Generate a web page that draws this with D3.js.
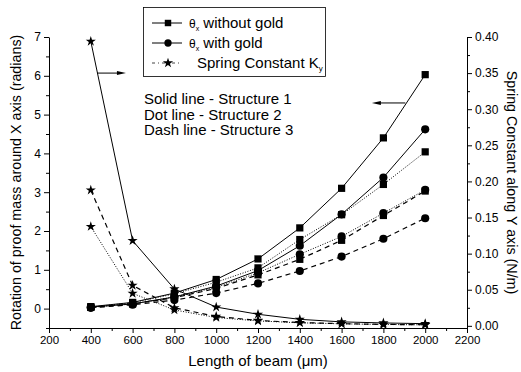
<!DOCTYPE html>
<html>
<head>
<meta charset="utf-8">
<script src="https://cdn.jsdelivr.net/npm/d3@7/dist/d3.min.js"></script>
<style>
    body { margin: 0; background: #fff; }
    svg { display: block; font-family: "Liberation Sans", Arial, sans-serif; }
    .axis path, .axis line { stroke: #000; stroke-width: 1; }
    .axis text { font-size: 11.5px; fill: #000; }
    .y.axis text { font-size: 12px; }
</style>
</head>
<body>
<div id="chart"></div>
<script>
// beam length (um)
var lengths = [400, 600, 800, 1000, 1200, 1400, 1600, 1800, 2000];

// rotation theta_x without gold (radians), left axis
var noGoldSolid = [0.05, 0.16, 0.40, 0.75, 1.28, 2.08, 3.10, 4.40, 6.03];
var noGoldDot   = [0.04, 0.15, 0.38, 0.68, 1.05, 1.78, 2.42, 3.20, 4.04];
var noGoldDash  = [0.03, 0.12, 0.28, 0.52, 0.87, 1.27, 1.76, 2.40, 3.03];

// rotation theta_x with gold (radians), left axis
var goldSolid = [0.04, 0.12, 0.30, 0.58, 0.98, 1.62, 2.43, 3.38, 4.62];
var goldDot   = [0.03, 0.12, 0.30, 0.55, 0.92, 1.40, 1.86, 2.46, 3.06];
var goldDash  = [0.02, 0.10, 0.22, 0.40, 0.65, 0.97, 1.34, 1.80, 2.33];

// spring constant Ky (N/m), right axis
var springSolid = [0.394, 0.118, 0.051, 0.026, 0.016, 0.009, 0.0055, 0.004, 0.003];
var springDash  = [0.188, 0.056, 0.025, 0.013, 0.0075, 0.0045, 0.003, 0.002, 0.0015];
var springDot   = [0.1375, 0.045, 0.022, 0.0115, 0.0068, 0.0042, 0.0028, 0.0019, 0.0014];

var xTicks = [200, 400, 600, 800, 1000, 1200, 1400, 1600, 1800, 2000, 2200];
var leftTicks = [0, 1, 2, 3, 4, 5, 6, 7];
var rightTicks = [0, 0.05, 0.10, 0.15, 0.20, 0.25, 0.30, 0.35, 0.40];

// annotation arrows, in data units (x, left axis)
var arrowRight = [[430, 6.07], [568, 6.07]];
var arrowLeft  = [[1905, 5.3], [1745, 5.3]];

var notes = ["Solid line - Structure 1", "Dot line - Structure 2", "Dash line - Structure 3"];

var W = 521, H = 372;
var margin = {left: 49, right: 54, top: 37, bottom: 44};

var x = d3.scaleLinear().domain([200, 2200]).range([margin.left, W - margin.right]);
var yL = d3.scaleLinear().domain([-0.5, 7]).range([H - margin.bottom, margin.top]);
var yR = d3.scaleLinear().domain([-0.003, 0.40]).range([H - margin.bottom, margin.top]);

var svg = d3.select("#chart").append("svg")
    .attr("width", W)
    .attr("height", H);

svg.append("rect").attr("width", W).attr("height", H).attr("fill", "#fff");

// axes
svg.append("g")
    .attr("class", "x axis")
    .attr("transform", "translate(0," + (H - margin.bottom) + ")")
    .call(d3.axisBottom(x).tickValues(xTicks).tickSize(5).tickSizeOuter(0).tickFormat(d3.format("d")));
svg.append("g")
    .attr("class", "x axis")
    .attr("transform", "translate(0," + (H - margin.bottom) + ")")
    .call(d3.axisBottom(x).tickValues(d3.range(300, 2200, 200)).tickSize(3).tickFormat(""))
    .select(".domain").remove();

svg.append("g")
    .attr("class", "y axis")
    .attr("transform", "translate(" + margin.left + ",0)")
    .call(d3.axisLeft(yL).tickValues(leftTicks).tickSize(5).tickSizeOuter(0).tickFormat(d3.format("d")));
svg.append("g")
    .attr("class", "y axis")
    .attr("transform", "translate(" + margin.left + ",0)")
    .call(d3.axisLeft(yL).tickValues(d3.range(-0.5, 7, 1)).tickSize(3).tickFormat(""))
    .select(".domain").remove();

svg.append("g")
    .attr("class", "y axis")
    .attr("transform", "translate(" + (W - margin.right) + ",0)")
    .call(d3.axisRight(yR).tickValues(rightTicks).tickSize(5).tickSizeOuter(0).tickFormat(d3.format(".2f")));
svg.append("g")
    .attr("class", "y axis")
    .attr("transform", "translate(" + (W - margin.right) + ",0)")
    .call(d3.axisRight(yR).tickValues(d3.range(0.025, 0.4, 0.05)).tickSize(3).tickFormat(""))
    .select(".domain").remove();

// axis titles
svg.append("text")
    .attr("x", x(1200))
    .attr("y", 366)
    .style("text-anchor", "middle")
    .style("font-size", "15px")
    .text("Length of beam (\u03bcm)");

svg.append("text")
    .attr("transform", "translate(21," + yL(3.25) + ") rotate(-90)")
    .style("text-anchor", "middle")
    .style("font-size", "14.3px")
    .text("Rotation of proof mass around X axis (radians)");

svg.append("text")
    .attr("transform", "translate(507," + yL(3.25) + ") rotate(90)")
    .style("text-anchor", "middle")
    .style("font-size", "14.3px")
    .text("Spring Constant along Y axis (N/m)");

// series
var dashes = {solid: null, dot: "1,1.6", dash: "5,4"};

var series = [
    {values: noGoldSolid, y: yL, shape: d3.symbolSquare, style: "solid"},
    {values: noGoldDot, y: yL, shape: d3.symbolSquare, style: "dot"},
    {values: noGoldDash, y: yL, shape: d3.symbolSquare, style: "dash"},
    {values: goldSolid, y: yL, shape: d3.symbolCircle, style: "solid"},
    {values: goldDot, y: yL, shape: d3.symbolCircle, style: "dot"},
    {values: goldDash, y: yL, shape: d3.symbolCircle, style: "dash"},
    {values: springSolid, y: yR, shape: d3.symbolStar, style: "solid"},
    {values: springDash, y: yR, shape: d3.symbolStar, style: "dash"},
    {values: springDot, y: yR, shape: d3.symbolStar, style: "dot"}
];

function symbolSize(shape) {
    if (shape === d3.symbolSquare) return 52;
    if (shape === d3.symbolCircle) return 52;
    return 32;
}

series.forEach(function (s) {
    var line = d3.line()
        .x(function (d, i) { return x(lengths[i]); })
        .y(function (d) { return s.y(d); });

    svg.append("path")
        .attr("d", line(s.values))
        .style("fill", "none")
        .style("stroke", "#000")
        .style("stroke-width", s.style === "dash" ? 1.2 : 1)
        .style("stroke-dasharray", dashes[s.style]);
});

series.forEach(function (s) {
    svg.append("g").selectAll("path")
        .data(s.values)
        .enter().append("path")
        .attr("transform", function (d, i) {
            return "translate(" + x(lengths[i]) + "," + s.y(d) + ")";
        })
        .attr("d", d3.symbol().type(s.shape).size(symbolSize(s.shape)))
        .style("fill", "#000");
});

// arrows
function drawArrow(pts) {
    var x0 = x(pts[0][0]), x1 = x(pts[1][0]), yy = yL(pts[0][1]);
    var dir = x1 > x0 ? 1 : -1;
    svg.append("line")
        .attr("x1", x0).attr("y1", yy)
        .attr("x2", x1 - dir * 6).attr("y2", yy)
        .style("stroke", "#000")
        .style("stroke-width", 1);
    svg.append("path")
        .attr("d", "M" + x1 + "," + yy + "L" + (x1 - dir * 9) + "," + (yy - 2) + "L" + (x1 - dir * 9) + "," + (yy + 2) + "Z")
        .style("fill", "#000");
}
drawArrow(arrowRight);
drawArrow(arrowLeft);

// legend
var legend = svg.append("g");
legend.append("rect")
    .attr("x", 143.5).attr("y", 7.5)
    .attr("width", 182).attr("height", 69)
    .style("fill", "#fff")
    .style("stroke", "#000")
    .style("stroke-width", 0.8);

var legendItems = [
    {shape: d3.symbolSquare, dash: null, color: "#000", label: " without gold", sub: true},
    {shape: d3.symbolCircle, dash: null, color: "#000", label: " with gold", sub: true},
    {shape: d3.symbolStar, dash: "3,3,1,3", color: "#444", label: "Spring Constant K", sub: false}
];

legendItems.forEach(function (d, i) {
    var yy = 23 + i * 20;
    legend.append("line")
        .attr("x1", 152).attr("x2", 182)
        .attr("y1", yy).attr("y2", yy)
        .style("stroke", d.color)
        .style("stroke-width", 1)
        .style("stroke-dasharray", d.dash);
    legend.append("path")
        .attr("transform", "translate(168," + yy + ")")
        .attr("d", d3.symbol().type(d.shape).size(symbolSize(d.shape) * (i === 2 ? 1 : 0.8)))
        .style("fill", "#000");
    var t = legend.append("text")
        .attr("x", i === 2 ? 197 : 189)
        .attr("y", yy + 5)
        .style("font-size", "15px");
    if (d.sub) {
        t.append("tspan").style("font-size", "12px").text("\u03b8");
        t.append("tspan").attr("dy", 3).style("font-size", "7px").text("x");
        t.append("tspan").attr("dy", -3).text(d.label);
    } else {
        t.append("tspan").text(d.label);
        t.append("tspan").attr("dy", 3).style("font-size", "8px").text("y");
    }
});

// structure notes
svg.append("g").selectAll("text")
    .data(notes)
    .enter().append("text")
    .attr("x", 144)
    .attr("y", function (d, i) { return 104 + i * 15.5; })
    .style("font-size", "15px")
    .text(function (d) { return d; });
</script>
</body>
</html>
